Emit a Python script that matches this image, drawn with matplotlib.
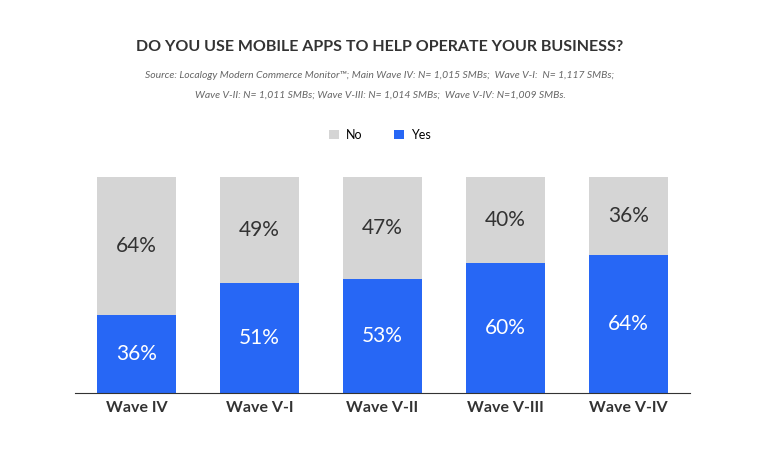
import matplotlib
matplotlib.use("Agg")
import matplotlib.pyplot as plt

waves = ["Wave IV", "Wave V-I", "Wave V-II", "Wave V-III", "Wave V-IV"]
yes = [36, 51, 53, 60, 64]
no = [64, 49, 47, 40, 36]

plt.rcParams['font.family'] = ['Lato', 'DejaVu Sans']
fig = plt.figure(figsize=(7.6, 4.5), dpi=100)
ax = fig.add_axes([75/760, 57/450, 615/760, 216/450])
x = range(len(waves))
blue = "#2767F5"; gray = "#D5D5D5"
ax.bar(x, yes, width=0.64, color=blue, label="Yes")
ax.bar(x, no, bottom=yes, width=0.64, color=gray, label="No")
for i in x:
    ax.text(i, yes[i]/2, f"{yes[i]}%", ha="center", va="center", color="white", fontsize=15)
    ax.text(i, yes[i]+no[i]/2, f"{no[i]}%", ha="center", va="center", color="#333333", fontsize=15)
ax.set_xlim(-0.5, 4.5)
ax.set_ylim(0, 100)
ax.set_xticks(list(x))
ax.set_xticklabels(waves, fontsize=11.5, fontweight="bold", color="#333333")
ax.tick_params(axis="x", length=0, pad=6)
ax.set_yticks([])
for s in ["top", "right", "left"]:
    ax.spines[s].set_visible(False)
ax.spines["bottom"].set_color("#333333")

fig.text(0.5, 1-47/450, "DO YOU USE MOBILE APPS TO HELP OPERATE YOUR BUSINESS?", ha="center", va="center",
         fontsize=11.5, fontweight="bold", color="#333333")
fig.text(0.5, 1-76/450, "Source: Localogy Modern Commerce Monitor™; Main Wave IV: N= 1,015 SMBs;  Wave V-I:  N= 1,117 SMBs;",
         ha="center", va="center", fontsize=7.5, style="italic", color="#666666")
fig.text(0.5, 1-95/450, "Wave V-II: N= 1,011 SMBs; Wave V-III: N= 1,014 SMBs;  Wave V-IV: N=1,009 SMBs.",
         ha="center", va="center", fontsize=7.5, style="italic", color="#666666")
h, l = ax.get_legend_handles_labels()
fig.legend([h[1], h[0]], ["No", "Yes"], loc="center", bbox_to_anchor=(0.5, 1-135/450), ncol=2,
           frameon=False, fontsize=9, handlelength=0.8, handleheight=0.8, columnspacing=2.5, handletextpad=0.6)
fig.savefig("out.png", dpi=100)
